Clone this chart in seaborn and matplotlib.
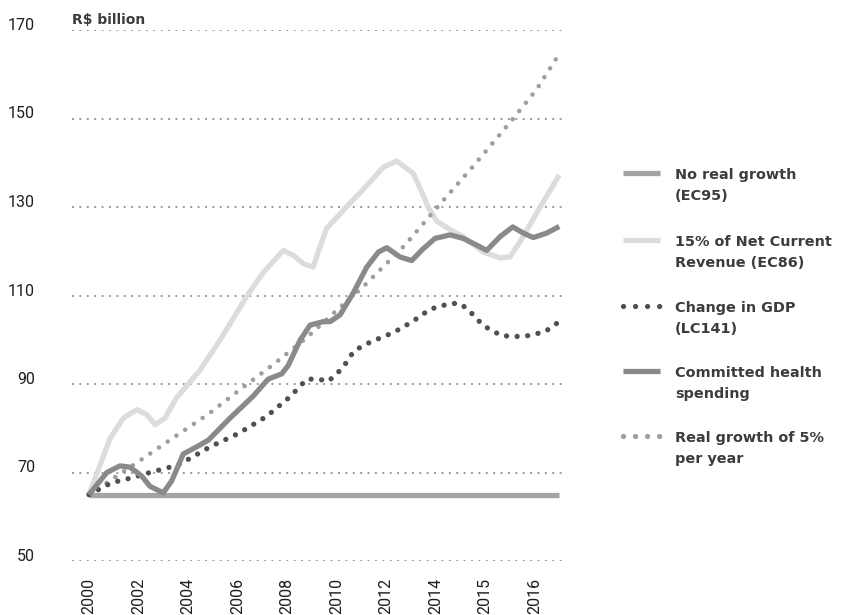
import matplotlib
matplotlib.use('Agg')
import matplotlib.pyplot as plt
from matplotlib.lines import Line2D
import seaborn as sns

# values, R$ billion
no_growth_x = [2000, 2019]
no_growth_y = [65, 65]

ncr_x = [2000, 2000.85, 2001.39, 2001.93, 2002.33, 2002.67, 2003.07, 2003.54, 2004.48,
         2005.29, 2006.37, 2007.04, 2007.85, 2008.25, 2008.66, 2009.06, 2009.26, 2009.6,
         2009.87, 2010.55, 2011.22, 2011.89, 2012.43, 2013.1, 2013.44, 2013.71, 2014.05,
         2014.59, 2015.12, 2015.93, 2016.61, 2017.01, 2017.41, 2018.22, 2019]
ncr_y = [65, 77.7, 82.3, 84.2, 83.1, 80.8, 82.3, 86.9, 93.1,
         99.9, 109.8, 115.2, 120.2, 119.1, 117.2, 116.4, 119.8, 125.2,
         126.8, 130.9, 134.8, 139.0, 140.4, 137.6, 133.4, 129.9, 126.8,
         124.9, 123.3, 119.8, 118.5, 118.7, 122.1, 129.9, 137.2]

gdp_x = [2000, 2000.92, 2001.73, 2002.46, 2003.27, 2003.68, 2004.89, 2006.03, 2007.18,
         2008.12, 2008.8, 2009.26, 2009.67, 2010.21, 2010.48, 2010.68, 2011.02, 2011.42,
         2012.29, 2013.04, 2013.78, 2014.59, 2014.99, 2015.32, 2015.93, 2016.67, 2017.55,
         2018.42, 2019]
gdp_y = [65, 67.7, 68.8, 70.0, 71.2, 71.9, 75.8, 78.8, 82.7,
         87.1, 91.1, 91.1, 90.6, 93.4, 95.5, 97.3, 98.5, 99.6,
         101.6, 104.0, 106.9, 108.2, 108.2, 106.8, 103.2, 100.9, 100.7,
         101.8, 104.1]

committed_x = [2000, 2000.72, 2001.25, 2001.66, 2002.13, 2002.46, 2003.0, 2003.34, 2003.81,
               2004.35, 2004.82, 2005.7, 2006.64, 2007.24, 2007.79, 2008.05, 2008.53, 2008.93,
               2009.47, 2009.74, 2010.14, 2010.68, 2011.22, 2011.69, 2012.03, 2012.57, 2013.04,
               2013.51, 2013.98, 2014.59, 2015.12, 2015.66, 2016.07, 2016.61, 2017.12, 2017.55,
               2017.95, 2018.49, 2019]
committed_y = [65, 70.0, 71.5, 71.2, 69.2, 66.9, 65.4, 68.1, 74.2,
               75.8, 77.3, 82.3, 87.3, 91.1, 92.3, 94.2, 99.9, 103.3,
               104.1, 104.1, 105.6, 110.6, 116.4, 119.8, 120.8, 118.7, 117.9,
               120.6, 122.9, 123.7, 122.9, 121.4, 120.2, 123.3, 125.5, 124.1,
               123.1, 124.1, 125.6]

real5_x = [2000, 2002.06, 2003.47, 2004.82, 2006.14, 2007.49, 2008.8, 2009.8, 2011.08,
           2012.77, 2014.11, 2015.46, 2017.01, 2018.09, 2019]
real5_y = [65, 72.7, 78.1, 83.2, 88.9, 94.6, 100.5, 105.6, 112.0,
           121.4, 130.2, 138.8, 149.1, 156.6, 164.6]

tick_years = [2000, 2002, 2004, 2006, 2008, 2010, 2012, 2014, 2016, 2018]
tick_labels = ['2000', '2002', '2004', '2006', '2008', '2010', '2012', '2014', '2015', '2016']
y_ticks = [50, 70, 90, 110, 130, 150, 170]

legend_labels = ['No real growth\n(EC95)', '15% of Net Current\nRevenue (EC86)',
                 'Change in GDP\n(LC141)', 'Committed health\nspending',
                 'Real growth of 5%\nper year']

c_nogrowth = '#a4a4a4'
c_ncr = '#dcdcdc'
c_gdp = '#505050'
c_committed = '#8a8a8a'
c_real5 = '#9e9e9e'
c_text = '#3c3c3c'

sns.set_style('white')
plt.rcParams['font.family'] = ['DejaVu Sans']

W, H = 841, 615
fig = plt.figure(figsize=(W / 100, H / 100), dpi=100)
ax = fig.add_axes([72 / W, 54 / H, 491 / W, 531 / H])

sns.lineplot(x=ncr_x, y=ncr_y, ax=ax, color=c_ncr, linewidth=3.8,
             solid_joinstyle='round', solid_capstyle='butt')
sns.lineplot(x=no_growth_x, y=no_growth_y, ax=ax, color=c_nogrowth, linewidth=3.8,
             solid_capstyle='butt')
sns.lineplot(x=real5_x, y=real5_y, ax=ax, color=c_real5, linewidth=3.3,
             linestyle=(0, (0.01, 2.29)), dash_capstyle='round')
sns.lineplot(x=gdp_x, y=gdp_y, ax=ax, color=c_gdp, linewidth=3.8,
             linestyle=(0, (0.01, 2.0)), dash_capstyle='round')
sns.lineplot(x=committed_x, y=committed_y, ax=ax, color=c_committed, linewidth=3.8,
             solid_joinstyle='round', solid_capstyle='butt')

ax.set_xlim(2000 - 17 / 24.75, 2000 + 474 / 24.75)
ax.set_ylim(50, 170)
ax.set_yticks(y_ticks)
ax.set_xticks(tick_years)
ax.set_xticklabels(tick_labels)
ax.set_xlabel('')
ax.set_ylabel('')

ax.yaxis.grid(True, color='#9a9a9a', linestyle=(0, (1, 2.8)), linewidth=1.4)
ax.xaxis.grid(False)
ax.set_axisbelow(True)
for s in ax.spines.values():
    s.set_visible(False)

ax.tick_params(axis='both', length=0, labelsize=11.5, labelcolor='#1e1e1e')
ax.tick_params(axis='y', pad=26.6)
ax.tick_params(axis='x', pad=12, labelrotation=90)
for lbl in ax.get_yticklabels() + ax.get_xticklabels():
    lbl.set_fontfamily(['Roboto', 'DejaVu Sans'])
for lbl in ax.get_yticklabels():
    lbl.set_va('baseline')

fig.text(72 / W, 1 - 24 / H, 'R$ billion', fontsize=10, fontweight='bold',
         color=c_text, va='baseline', ha='left')

# legend drawn by hand, handles next to the first line of each label
styles = [
    dict(color=c_nogrowth, lw=3.8, ls='-'),
    dict(color=c_ncr, lw=3.8, ls='-'),
    dict(color=c_gdp, lw=3.8, ls=(0, (0.01, 2.27)), dash_capstyle='round'),
    dict(color=c_committed, lw=3.8, ls='-'),
    dict(color=c_real5, lw=3.8, ls=(0, (0.01, 2.27)), dash_capstyle='round'),
]
handle_y = [173, 240, 306, 371, 436]
for lab, st, yy in zip(legend_labels, styles, handle_y):
    fy = 1 - yy / H
    fig.add_artist(Line2D([623 / W, 659.5 / W], [fy, fy], transform=fig.transFigure,
                          solid_capstyle='butt', **st))
    # baseline of a multi-line text is its last line
    fig.text(675 / W, 1 - (yy + 5 + 22) / H, lab, fontsize=10.4, fontweight='bold',
             color=c_text, va='baseline', ha='left', linespacing=1.62)

fig.savefig('out.png', dpi=100)
